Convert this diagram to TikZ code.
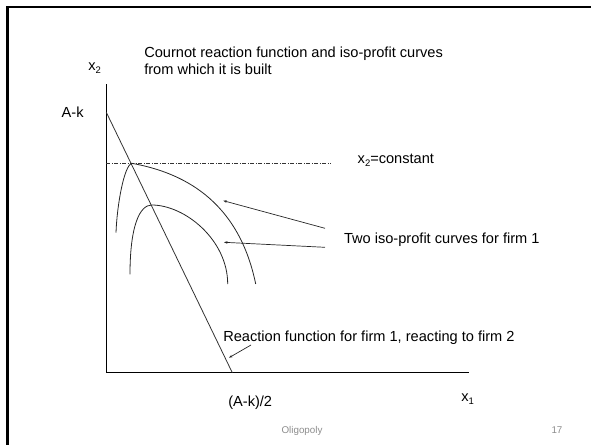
\documentclass[tikz,border=0pt]{standalone}
\usepackage{fontspec}
\setmainfont{Liberation Sans}
\usetikzlibrary{arrows.meta}
\definecolor{footgray}{RGB}{140,140,140}
\tikzset{
  lbl/.style={inner sep=0pt, outer sep=0pt, anchor=base west, font=\fontsize{14.6}{17.6}\selectfont},
  foot/.style={inner sep=0pt, outer sep=0pt, anchor=base west, text=footgray, font=\fontsize{9.8}{11}\selectfont},
  axisline/.style={line width=1.3pt, black},
  curve/.style={line width=0.8pt, black!85},
  reaction/.style={line width=0.8pt, black!80},
  pointer/.style={line width=0.7pt, black!85, -{Stealth[length=3.5pt,width=2.6pt]}},
  dashdot/.style={line width=0.6pt, black!80, dash pattern=on 4pt off 1.5pt on 1pt off 1.5pt},
  framebar/.style={line width=2.4pt, black}
}
\newcommand{\subtwo}[1]{\raisebox{-0.22em}{\fontsize{9.5}{9.5}\selectfont #1}}
\begin{document}
\begin{tikzpicture}[x=1pt,y=-1pt]
\useasboundingbox (0,0) rectangle (591,444);
% slide frame
\draw[framebar] (7.3,446) -- (7.3,7.3) -- (593,7.3);
% axes
\coordinate (ytop) at (106.3,84.3);
\coordinate (orig) at (106.3,372.7);
\coordinate (xend) at (469.3,372.7);
\draw[axisline] (ytop) -- (orig) -- (xend);
% reaction function
\coordinate (rtop) at (106.3,112.3);
\coordinate (rbot) at (232.3,372.7);
\draw[reaction] (rtop) -- (rbot);
% x2 = constant line
\coordinate (dl) at (106.3,163.3);
\coordinate (dr) at (330.5,163.3);
\draw[dashdot] (dl) -- (dr);
% upper iso-profit curve
\coordinate (upL) at (116,232.7);
\coordinate (upP) at (131.7,163.3);
\coordinate (upR) at (255.7,284);
\draw[curve] (upL) .. controls (117,205) and (124,166) .. (upP)
             .. controls (180,172) and (238,198) .. (upR);
% lower iso-profit curve
\coordinate (loL) at (130,274.3);
\coordinate (loP) at (151.7,205);
\coordinate (loR) at (227.7,284);
\draw[curve] (loL) .. controls (130,225) and (140,205) .. (loP)
             .. controls (185,205) and (227.7,240) .. (loR);
% pointers
\coordinate (a1s) at (325,228.3);
\coordinate (a1e) at (223.3,200.7);
\coordinate (a2s) at (325,247.3);
\coordinate (a2e) at (224,242.3);
\coordinate (a3s) at (251,345);
\coordinate (a3e) at (229,357.7);
\draw[pointer] (a1s) -- (a1e);
\draw[pointer] (a2s) -- (a2e);
\draw[pointer] (a3s) -- (a3e);
% texts
\node[lbl] (title1) at (144.3,57) {Cournot reaction function and iso-profit curves};
\node[lbl] (title2) at (144.3,74.6) {from which it is built};
\node[lbl] (ylab) at (88.3,70.5) {x\subtwo{2}};
\node[lbl] (ak) at (61.7,117) {A-k};
\node[lbl] (const) at (357.7,163.3) {x\subtwo{2}=constant};
\node[lbl] (iso) at (344,243.5) {Two iso-profit curves for firm 1};
\node[lbl] (react) at (223.3,341) {Reaction function for firm 1, reacting to firm 2};
\node[lbl] (half) at (228.3,406.5) {(A-k)/2};
\node[lbl] (xlab) at (461.3,401) {x\subtwo{1}};
\node[foot] (oli) at (281.6,433.5) {Oligopoly};
\node[foot] (pg) at (551.5,433) {17};
\end{tikzpicture}
\end{document}
